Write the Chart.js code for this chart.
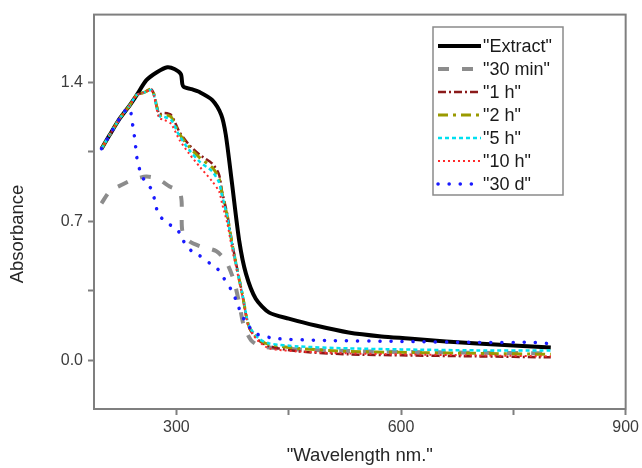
<!DOCTYPE html>
<html>
<head>
<meta charset="utf-8">
<script src="https://cdn.jsdelivr.net/npm/chart.js@4.4.1/dist/chart.umd.min.js"></script>
<style>
html,body{margin:0;padding:0;background:#fff;}
canvas{display:block;}
</style>
</head>
<body>
<canvas id="c" width="642" height="468"></canvas>
<script>
// ---- data ----
const seriesNames = ['"Extract"', '"30 min"', '"1 h"', '"2 h"', '"5 h"', '"10 h"', '"30 d"'];

const wlExtract = [200,211,224,238,247,260,274,288,298,306,308,310,320,331,348,360,366,374,384,393,406,424,450,486,530,574,610,660,702,750,800];
const absExtract = [1.065,1.135,1.215,1.285,1.335,1.41,1.45,1.475,1.465,1.44,1.39,1.375,1.365,1.35,1.31,1.235,1.135,0.90,0.60,0.435,0.31,0.24,0.21,0.175,0.14,0.12,0.11,0.095,0.085,0.075,0.065];

const wl30min = [200,211,228,242,260,274,291,304,307,308,317,331,353,366,377,384,390,400,413,463,550,650,800];
const abs30min = [0.79,0.85,0.885,0.91,0.925,0.915,0.875,0.85,0.80,0.65,0.60,0.575,0.55,0.50,0.40,0.285,0.175,0.10,0.07,0.055,0.045,0.04,0.035];

const wl1h = [200,211,224,238,247,258,266,270,277,284,293,304,317,331,348,357,361,368,374,381,388,397,410,424,463,530,600,700,800];
const abs1h = [1.065,1.135,1.215,1.285,1.335,1.35,1.365,1.34,1.24,1.245,1.235,1.15,1.085,1.035,0.99,0.935,0.85,0.735,0.60,0.465,0.335,0.165,0.10,0.07,0.045,0.03,0.025,0.02,0.015];

const wl2h = [200,211,224,238,247,258,266,270,277,284,293,304,317,331,348,357,361,368,374,381,388,397,410,424,463,530,600,700,800];
const abs2h = [1.065,1.135,1.215,1.285,1.335,1.35,1.365,1.34,1.235,1.235,1.225,1.14,1.075,1.02,0.97,0.915,0.84,0.725,0.595,0.46,0.335,0.17,0.105,0.08,0.06,0.045,0.04,0.035,0.03];

const wl5h = [200,211,224,238,247,258,266,270,277,284,293,304,317,331,348,357,361,368,374,381,388,397,410,424,463,530,600,700,800];
const abs5h = [1.065,1.135,1.215,1.285,1.335,1.35,1.36,1.335,1.23,1.225,1.21,1.13,1.06,1.00,0.95,0.895,0.83,0.72,0.59,0.46,0.335,0.175,0.11,0.085,0.07,0.06,0.055,0.05,0.05];

const wl10h = [200,211,224,238,247,258,266,270,277,284,293,304,317,331,348,357,361,368,374,381,388,397,410,424,463,530,600,700,800];
const abs10h = [1.065,1.135,1.215,1.285,1.335,1.35,1.36,1.33,1.22,1.21,1.19,1.11,1.04,0.975,0.90,0.85,0.79,0.69,0.57,0.45,0.325,0.165,0.095,0.06,0.045,0.035,0.03,0.025,0.02];

const wl30d = [200,211,224,235,239,242,245,247,251,258,267,272,276,288,301,308,317,328,344,355,364,374,380,386,393,406,433,500,600,700,780,795];
const abs30d = [1.065,1.135,1.215,1.27,1.25,1.175,1.10,1.025,0.96,0.90,0.86,0.79,0.735,0.69,0.66,0.61,0.56,0.535,0.49,0.46,0.41,0.35,0.30,0.24,0.19,0.135,0.11,0.10,0.095,0.09,0.09,0.085];

const xTickValues = [300, 450, 600, 750, 900];
const yTickValues = [0, 0.35, 0.7, 1.05, 1.4];
const xLabelValues = [300, 600, 900];
const yLabelValues = [0, 0.7, 1.4];

function pts(xs, ys){ return xs.map((x,i)=>({x:x, y:ys[i]})); }

const styles = [
  {c:'#000000', w:4,   d:[],          cap:'butt'},
  {c:'#8c8c8c', w:4,   d:[11,13],     cap:'butt'},
  {c:'#8b1a1a', w:2.5, d:[8,3,2,3],   cap:'butt'},
  {c:'#9a9a00', w:3,   d:[10,5,3,5],  cap:'butt'},
  {c:'#00e0f0', w:2.5, d:[4,3],       cap:'butt'},
  {c:'#ff2a2a', w:2,   d:[2,3],       cap:'butt'},
  {c:'#1a1aff', w:3.5, d:[0.1,11],    cap:'round'}
];
const drawOrder = [7, 6, 5, 4, 3, 2, 1];
const wls = [wlExtract, wl30min, wl1h, wl2h, wl5h, wl10h, wl30d];
const abss = [absExtract, abs30min, abs1h, abs2h, abs5h, abs10h, abs30d];

const datasets = seriesNames.map((n,i)=>({
  label: n,
  data: pts(wls[i], abss[i]),
  borderColor: styles[i].c,
  borderWidth: styles[i].w,
  borderDash: styles[i].d,
  borderCapStyle: styles[i].cap,
  order: drawOrder[i],
  pointRadius: 0,
  fill: false,
  tension: 0.25
}));

const FONT = '"Liberation Sans", Arial, sans-serif';

const framePlugin = {
  id: 'frame',
  beforeDraw(chart){
    const ctx = chart.ctx;
    ctx.save();
    ctx.fillStyle = '#fff';
    ctx.fillRect(0,0,chart.width,chart.height);
    ctx.restore();
  },
  afterDraw(chart){
    const ctx = chart.ctx, a = chart.chartArea;
    ctx.save();
    ctx.strokeStyle = '#7f7f7f';
    ctx.lineWidth = 2;
    ctx.setLineDash([]);
    ctx.strokeRect(a.left, a.top, a.right - a.left, a.bottom - a.top);
    ctx.fillStyle = '#262626';
    ctx.font = '18.5px ' + FONT;
    ctx.textAlign = 'center';
    ctx.textBaseline = 'middle';
    ctx.fillText('"Wavelength nm."', (a.left + a.right)/2, 456);
    ctx.translate(18, 234);
    ctx.rotate(-Math.PI/2);
    ctx.fillText('Absorbance', 0, 0);
    ctx.restore();

    // legend
    ctx.save();
    const bx = 433, by = 27, bw = 130, bh = 168;
    ctx.strokeStyle = '#8a8a8a';
    ctx.lineWidth = 1.5;
    ctx.strokeRect(bx, by, bw, bh);
    chart.data.datasets.forEach((ds, i) => {
      const y = 46 + i*23;
      ctx.strokeStyle = ds.borderColor;
      ctx.lineWidth = ds.borderWidth;
      ctx.setLineDash(ds.borderDash);
      ctx.lineCap = ds.borderCapStyle;
      ctx.beginPath();
      ctx.moveTo(438, y);
      ctx.lineTo(481, y);
      ctx.stroke();
      ctx.setLineDash([]);
      ctx.fillStyle = '#1a1a1a';
      ctx.font = '18px ' + FONT;
      ctx.textAlign = 'left';
      ctx.textBaseline = 'middle';
      ctx.fillText(ds.label, 483, y + 1);
    });
    ctx.restore();
  }
};

new Chart(document.getElementById('c'), {
  type: 'line',
  data: { datasets },
  plugins: [framePlugin],
  options: {
    responsive: false,
    animation: false,
    devicePixelRatio: 1,
    layout: { padding: { top: 12, right: 13, left: 0, bottom: 0 } },
    plugins: { legend: { display: false }, tooltip: { enabled: false } },
    scales: {
      x: {
        type: 'linear',
        min: 190, max: 900,
        afterFit(s){ s.height = 59; },
        afterBuildTicks(s){ s.ticks = xTickValues.map(v=>({value:v})); },
        grid: { drawOnChartArea: false, drawTicks: true, tickLength: 6, color: '#7f7f7f', tickWidth: 2 },
        border: { color: '#7f7f7f', width: 2 },
        ticks: {
          padding: 3,
          color: '#3c3c3c',
          font: { size: 16, family: FONT },
          maxRotation: 0,
          callback(v){ return xLabelValues.includes(v) ? String(v) : ''; }
        }
      },
      y: {
        type: 'linear',
        min: -0.245, max: 1.74,
        afterFit(s){ s.width = 94; },
        afterBuildTicks(s){ s.ticks = yTickValues.map(v=>({value:v})); },
        grid: { drawOnChartArea: false, drawTicks: true, tickLength: 6, color: '#7f7f7f', tickWidth: 2 },
        border: { color: '#7f7f7f', width: 2 },
        ticks: {
          padding: 5,
          color: '#3c3c3c',
          font: { size: 16, family: FONT },
          callback(v){ return yLabelValues.includes(v) ? v.toFixed(1) : ''; }
        }
      }
    }
  }
});
</script>
</body>
</html>
